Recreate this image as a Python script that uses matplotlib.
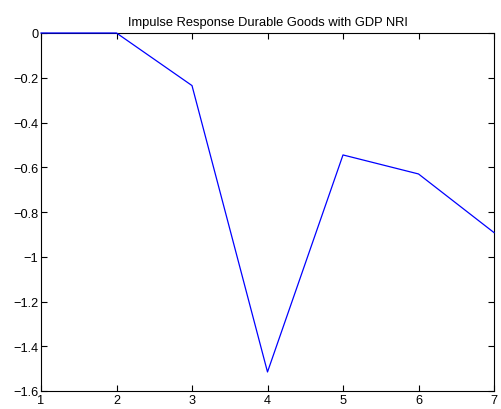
import matplotlib
matplotlib.use("Agg")
import matplotlib.pyplot as plt

# Impulse response values by period
periods = [1, 2, 3, 4, 5, 6, 7]
response = [0.0, 0.0, -0.235, -1.515, -0.545, -0.630, -0.892]

xticks = [1, 2, 3, 4, 5, 6, 7]
yticks = [-1.6, -1.4, -1.2, -1.0, -0.8, -0.6, -0.4, -0.2, 0.0]
ytick_labels = ["\u22121.6", "\u22121.4", "\u22121.2", "\u22121", "\u22120.8",
                "\u22120.6", "\u22120.4", "\u22120.2", "0"]

plt.rcParams["font.family"] = ["Liberation Sans", "DejaVu Sans"]

fig = plt.figure(figsize=(5.01, 4.10), dpi=100)
ax = fig.add_axes([41 / 501, 18 / 410, 453 / 501, 358 / 410])

ax.plot(periods, response, color="#0000ff", linewidth=0.9,
        clip_on=False, zorder=5)

ax.set_xlim(1, 7)
ax.set_ylim(-1.6, 0)
ax.set_xticks(xticks)
ax.set_yticks(yticks)
ax.set_yticklabels(ytick_labels)
ax.tick_params(direction="in", top=True, right=True, length=4, width=0.8,
               labelsize=9.2, pad=2)
for s in ax.spines.values():
    s.set_linewidth(0.8)

ax.set_title("Impulse Response Durable Goods with GDP NRI", fontsize=9.3, pad=6)

fig.savefig("out.png", dpi=100)
